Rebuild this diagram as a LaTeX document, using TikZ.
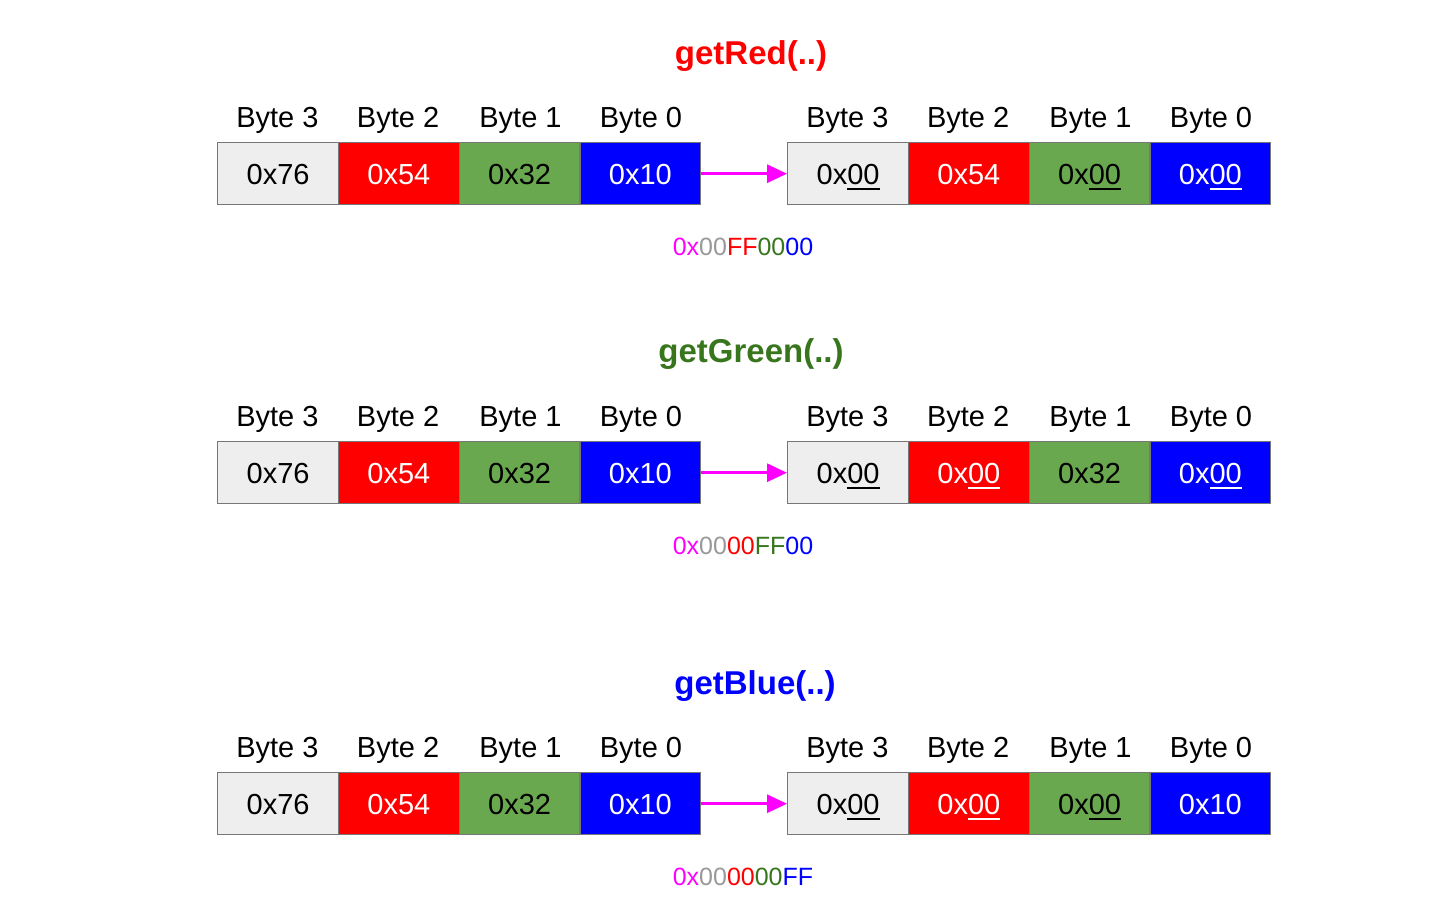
\documentclass[tikz,border=0pt]{standalone}
\usepackage{fontspec}
\setmainfont{Liberation Sans}
\usetikzlibrary{arrows.meta}
\definecolor{cgray}{HTML}{EEEEEE}
\definecolor{cred}{HTML}{FF0000}
\definecolor{cgreen}{HTML}{6AA84F}
\definecolor{cblue}{HTML}{0000FF}
\definecolor{tgreen}{HTML}{38761D}
\definecolor{mgray}{HTML}{999999}
\definecolor{cmag}{HTML}{FF00FF}
\definecolor{cborder}{HTML}{777777}
\newcommand\ulz[1]{\sbox0{#1}\rlap{\usebox0}\rule[-5.5pt]{\wd0}{2pt}}
\tikzset{
 cell/.style={draw=cborder, line width=1.4pt, minimum width=120.75pt, minimum height=62pt,
   inner sep=0pt, anchor=north west, text height=20.8pt, text depth=0pt,
   font=\fontsize{29}{34}\selectfont},
 c3/.style={cell, fill=cgray, text=black},
 c2/.style={cell, fill=cred, text=white},
 c1/.style={cell, fill=cgreen, text=black},
 c0/.style={cell, fill=cblue, text=white},
 blabel/.style={font=\fontsize{29}{34}\selectfont, anchor=base, inner sep=0pt},
 ftitle/.style={font=\fontsize{33}{38}\selectfont\bfseries, anchor=base, inner sep=0pt},
 mask/.style={font=\fontsize{25}{30}\selectfont, anchor=base, inner sep=0pt},
 conv/.style={draw=cmag, line width=3pt, -{Triangle[length=20pt,width=18pt]}}
}
\newcommand\bytesrow[6]{%
 \node[c3] (L#1b3) at (217,#2) {0x76};
 \node[c2] (L#1b2) at (337.75,#2) {0x54};
 \node[c1] (L#1b1) at (458.5,#2) {0x32};
 \node[c0] (L#1b0) at (579.25,#2) {0x10};
 \node[c3] (R#1b3) at (787,#2) {#3};
 \node[c2] (R#1b2) at (907.75,#2) {#4};
 \node[c1] (R#1b1) at (1028.5,#2) {#5};
 \node[c0] (R#1b0) at (1149.25,#2) {#6};
 \draw[conv] (L#1b0.east) -- (R#1b3.west);
 \node[blabel] (LL#1b3) at (277.4,#2-15) {Byte 3};
 \node[blabel] (LL#1b2) at (398.1,#2-15) {Byte 2};
 \node[blabel] (LL#1b1) at (520.5,#2-15) {Byte 1};
 \node[blabel] (LL#1b0) at (641,#2-15) {Byte 0};
 \node[blabel] (RL#1b3) at (847.4,#2-15) {Byte 3};
 \node[blabel] (RL#1b2) at (968.1,#2-15) {Byte 2};
 \node[blabel] (RL#1b1) at (1090.5,#2-15) {Byte 1};
 \node[blabel] (RL#1b0) at (1211,#2-15) {Byte 0};
}
\begin{document}
\begin{tikzpicture}[x=1pt,y=-1pt]
\useasboundingbox[fill=white] (0,0) rectangle (1431,921);
% getRed
\node[ftitle, text=cred] (t1) at (751,64) {getRed(..)};
\bytesrow{1}{142}{0x\ulz{00}}{0x54}{0x\ulz{00}}{0x\ulz{00}}
\node[mask] (m1) at (743,255) {\textcolor{cmag}{0x}\textcolor{mgray}{00}\textcolor{cred}{FF}\textcolor{tgreen}{00}\textcolor{cblue}{00}};
% getGreen
\node[ftitle, text=tgreen] (t2) at (751,362) {getGreen(..)};
\bytesrow{2}{441}{0x\ulz{00}}{0x\ulz{00}}{0x32}{0x\ulz{00}}
\node[mask] (m2) at (743,554) {\textcolor{cmag}{0x}\textcolor{mgray}{00}\textcolor{cred}{00}\textcolor{tgreen}{FF}\textcolor{cblue}{00}};
% getBlue
\node[ftitle, text=cblue] (t3) at (755,694) {getBlue(..)};
\bytesrow{3}{772}{0x\ulz{00}}{0x\ulz{00}}{0x\ulz{00}}{0x10}
\node[mask] (m3) at (743,885) {\textcolor{cmag}{0x}\textcolor{mgray}{00}\textcolor{cred}{00}\textcolor{tgreen}{00}\textcolor{cblue}{FF}};
\end{tikzpicture}
\end{document}
